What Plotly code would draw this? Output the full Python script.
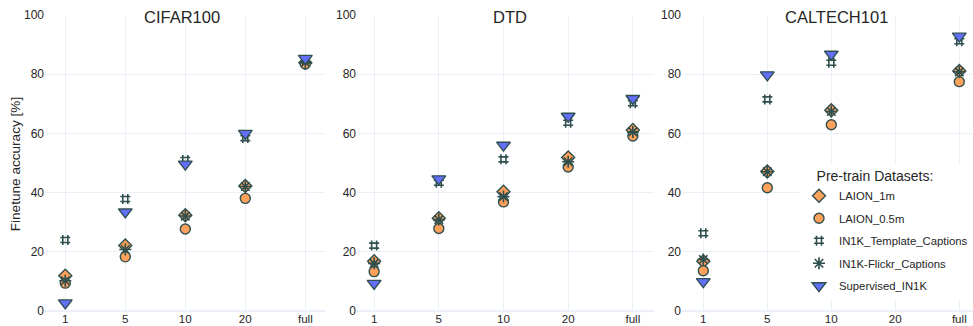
import plotly.graph_objects as go

# Few-shot finetune accuracy (%) per pre-training dataset
shots = ["1", "5", "10", "20", "full"]
panels = ["CIFAR100", "DTD", "CALTECH101"]

cifar_laion_1m = [11.8, 22.0, 32.3, 42.2, 83.9]
cifar_laion_05m = [9.3, 18.2, 27.6, 38.0, 83.5]
cifar_template = [23.9, 37.8, 51.0, 58.4, 84.8]
cifar_flickr = [10.1, 20.7, 32.0, 42.0, 84.0]
cifar_supervised = [2.6, 33.4, 49.6, 60.0, 85.4]

dtd_laion_1m = [16.7, 31.3, 40.2, 51.8, 61.1]
dtd_laion_05m = [13.2, 27.8, 36.8, 48.6, 59.1]
dtd_template = [22.0, 43.3, 51.2, 63.6, 70.2]
dtd_flickr = [16.0, 30.8, 38.6, 50.4, 60.5]
dtd_supervised = [9.2, 44.6, 56.0, 65.8, 71.8]

caltech_laion_1m = [16.7, 47.1, 67.8, None, 81.1]
caltech_laion_05m = [13.5, 41.6, 62.9, None, 77.5]
caltech_template = [26.2, 71.5, 83.9, None, 91.2]
caltech_flickr = [17.3, 47.0, 67.4, None, 80.8]
caltech_supervised = [9.8, 79.8, 86.8, None, 92.9]

series_names = ["LAION_1m", "LAION_0.5m", "IN1K_Template_Captions",
                "IN1K-Flickr_Captions", "Supervised_IN1K"]
panel_values = [
    [cifar_laion_1m, cifar_laion_05m, cifar_template, cifar_flickr, cifar_supervised],
    [dtd_laion_1m, dtd_laion_05m, dtd_template, dtd_flickr, dtd_supervised],
    [caltech_laion_1m, caltech_laion_05m, caltech_template, caltech_flickr, caltech_supervised],
]

ORANGE = "#FFA15A"
BLUE = "#636EFA"
SLATE = "#2F4F4F"
TEXT = "#262626"
GRID = "#EBF0F8"
FONT = "Liberation Sans, Arial, sans-serif"

styles = [
    dict(symbol="diamond", size=10, color=ORANGE, line=dict(color=SLATE, width=1.4)),
    dict(symbol="circle", size=10, color=ORANGE, line=dict(color=SLATE, width=1.4)),
    dict(symbol="hash-open", size=10, color=SLATE, line=dict(color=SLATE, width=1.6)),
    dict(symbol="asterisk-open", size=10, color=SLATE, line=dict(color=SLATE, width=1.6)),
    dict(symbol="triangle-down", size=12, color=BLUE, line=dict(color=SLATE, width=1.4)),
]

W, H = 973, 326
# plot-area pixel extents for each panel
x_px = [(45, 325), (357, 654), (682, 973)]
x_ranges = [(-0.338, 4.328), (-0.265, 4.327), (-0.333, 4.214)]
title_x = [181.7, 510, 836.7]
y_top, y_bot = 15.2, 310.6

fig = go.Figure()
for p, vals in enumerate(panel_values):
    sfx = "" if p == 0 else str(p + 1)
    for s, name in enumerate(series_names):
        fig.add_trace(go.Scatter(
            x=shots, y=vals[s], mode="markers", name=name,
            legendgroup=name, showlegend=(p == 0),
            marker=styles[s], xaxis="x" + sfx, yaxis="y" + sfx,
        ))

NBSP = "\u00a0"
layout = dict(
    template="none",
    width=W, height=H,
    margin=dict(l=0, r=0, t=0, b=0, autoexpand=False),
    paper_bgcolor="white", plot_bgcolor="white",
    font=dict(family=FONT, size=12, color=TEXT),
    showlegend=True,
    legend=dict(
        x=1, xanchor="right", y=(H - 163) / H, yanchor="top",
        bgcolor="white", borderwidth=0,
        traceorder="grouped", tracegroupgap=3.5,
        font=dict(size=11.3, color=TEXT),
        title=dict(text=NBSP * 4 + "Pre-train Datasets:", font=dict(size=14, color=TEXT)),
    ),
    annotations=[],
)

for p in range(3):
    sfx = "" if p == 0 else str(p + 1)
    x0, x1 = x_px[p]
    layout["xaxis" + sfx] = dict(
        domain=[x0 / W, x1 / W], anchor="y" + sfx, automargin=False,
        type="category", categoryorder="array", categoryarray=shots,
        range=list(x_ranges[p]),
        showgrid=True, gridcolor=GRID, gridwidth=1,
        showline=False, zeroline=False, ticks="",
        tickfont=dict(size=11.6, color=TEXT),
    )
    layout["yaxis" + sfx] = dict(
        domain=[(H - y_bot) / H, (H - y_top) / H], anchor="x" + sfx, automargin=False,
        range=[0, 100], dtick=20, tick0=0,
        showgrid=True, gridcolor=GRID, gridwidth=1,
        zeroline=True, zerolinecolor=GRID, zerolinewidth=1.5,
        showline=False, ticks="",
        tickfont=dict(size=12, color=TEXT),
    )
    layout["annotations"].append(dict(
        text=panels[p], xref="paper", yref="paper",
        x=title_x[p] / W, y=(H - 17.3) / H, xanchor="center", yanchor="middle",
        showarrow=False, font=dict(size=16.5, color=TEXT),
    ))

layout["annotations"].append(dict(
    text="Finetune accuracy [%]", xref="paper", yref="paper",
    x=15.8 / W, y=(H - 163.5) / H, xanchor="center", yanchor="middle",
    textangle=-90, showarrow=False, font=dict(size=13.6, color=TEXT),
))

fig.update_layout(**layout)
fig.write_html("out.html")
